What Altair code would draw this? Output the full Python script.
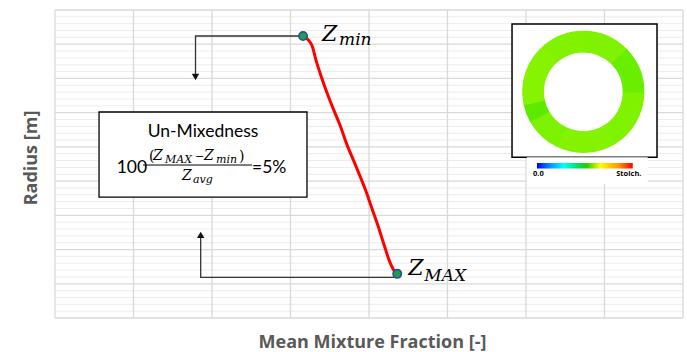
import altair as alt
import numpy as np
import pandas as pd

# ---- data -------------------------------------------------------------
# mean mixture fraction profile across the annulus (axis units, no tick labels)
curve_x = [3.16, 3.27, 3.33, 3.40, 3.46, 3.54, 3.63, 3.72, 3.80, 3.89, 3.97, 4.03, 4.12, 4.20, 4.27, 4.33, 4.36]
curve_y = [8.24, 7.98, 7.49, 7.00, 6.61, 6.14, 5.64, 5.06, 4.62, 4.12, 3.65, 3.25, 2.66, 2.08, 1.61, 1.35, 1.29]

extreme_names = ["min", "MAX"]
extreme_x = [3.16, 4.36]
extreme_y = [8.24, 1.29]

x_major = list(range(0, 9))
y_major = list(range(0, 10))
y_minor = [round(v, 2) for v in np.arange(0, 9, 0.2) if abs(v - round(v)) > 1e-6]

# connector paths from the extremes towards the summary box
conn_upper_x = [3.16, 1.79, 1.79]
conn_upper_y = [8.24, 8.24, 7.12]
conn_lower_x = [4.36, 1.856, 1.856]
conn_lower_y = [1.19, 1.19, 2.36]

# summary box and inset box (axis units)
box = dict(x=0.561, x2=3.21, y=3.53, y2=6.02)
inset = dict(x=5.822, x2=7.669, y=4.70, y2=8.59)
ring_center = (6.73, 6.61)
cbar = dict(x=6.14, x2=7.36, y=4.37, y2=4.53)
cbar_bg = dict(x=6.01, x2=7.55, y=3.92, y2=4.70)

# ring colouring by angular sector (radians, clockwise from top)
ring_t0 = [0.0, 0.8, 1.6, 2.6, 3.6, 4.2, 4.5, 5.6]
ring_t1 = [0.8, 1.6, 2.6, 3.6, 4.2, 4.5, 5.6, 6.2832]
ring_col = ["#7ef200", "#6aee00", "#7ff200", "#84f300", "#7cf100", "#5eea00", "#86f300", "#82f200"]

X = alt.X("x:Q", scale=alt.Scale(domain=[0, 8], nice=False, zero=False),
          axis=alt.Axis(title="Mean Mixture Fraction [-]", labels=False, ticks=False,
                        domain=False, grid=False, titleX=317, titleY=24,
                        titleBaseline="middle", titleAlign="center"))
Y = alt.Y("y:Q", scale=alt.Scale(domain=[0, 9], nice=False, zero=False),
          axis=alt.Axis(title="Radius [m]", labels=False, ticks=False, domain=False,
                        grid=False, titleAngle=270, titleX=-24, titleY=147.5,
                        titleBaseline="middle", titleAlign="center"))


def df(**cols):
    return pd.DataFrame(cols)


# ---- grid --------------------------------------------------------------
minor = alt.Chart(df(y=y_minor)).mark_rule(color="#ececec", strokeWidth=1).encode(y=Y)
hmajor = alt.Chart(df(y=y_major)).mark_rule(color="#d9d9d9", strokeWidth=1.3).encode(y=Y)
vmajor = alt.Chart(df(x=x_major)).mark_rule(color="#d9d9d9", strokeWidth=1.3).encode(x=X)

# ---- connectors --------------------------------------------------------
def path(xs, ys):
    return alt.Chart(df(x=xs, y=ys, o=list(range(len(xs))))).mark_line(
        color="#333333", strokeWidth=1.3).encode(x=X, y=Y, order="o:Q")

conn1 = path(conn_upper_x, conn_upper_y)
conn2 = path(conn_lower_x, conn_lower_y)
arrow1 = alt.Chart(df(x=[1.79], y=[7.04])).mark_point(
    shape="triangle-down", filled=True, size=55, color="#111111", opacity=1).encode(x=X, y=Y)
arrow2 = alt.Chart(df(x=[1.856], y=[2.43])).mark_point(
    shape="triangle-up", filled=True, size=55, color="#111111", opacity=1).encode(x=X, y=Y)

# ---- summary box -------------------------------------------------------
box_rect = alt.Chart(df(**{k: [v] for k, v in box.items()})).mark_rect(
    fill="white", stroke="black", strokeWidth=1.3).encode(x=X, x2="x2:Q", y=Y, y2="y2:Q")

bx = (box["x"] + box["x2"]) / 2
by = (box["y"] + box["y2"]) / 2


def label(text, dx, dy, size, font="Lato", style="normal", align="left", weight="normal",
          x=bx, y=by, color="black", baseline="alphabetic"):
    return alt.Chart(df(x=[x], y=[y], t=[text])).mark_text(
        font=font, fontSize=size, fontStyle=style, fontWeight=weight, align=align,
        baseline=baseline, dx=dx, dy=dy, color=color).encode(x=X, y=Y, text="t:N")


serif = "DejaVu Serif"
box_text = [
    label("Un-Mixedness", 0, -17.3, 17.5, align="center"),
    label("100", -86.3, 18.1, 17.5),
    label("(", -54, 6.6, 14, font=serif),
    label("Z", -50, 5.4, 14, font=serif, style="italic"),
    label("MAX", -38, 8.0, 11, font=serif, style="italic"),
    label("\u2212", -3.5, 5.0, 11, font=serif, align="center"),
    label("Z", 1, 5.4, 14, font=serif, style="italic"),
    label("min", 13, 8.0, 11, font=serif, style="italic"),
    label(")", 36, 6.6, 14, font=serif),
    label("Z", -21, 25.4, 14, font=serif, style="italic"),
    label("avg", -10, 28, 11, font=serif, style="italic"),
    label("=5%", 49, 18.1, 17.5),
]
frac_bar = alt.Chart(df(x=[1.121], x2=[2.51], y=[4.47])).mark_rule(
    color="black", strokeWidth=1).encode(x=X, x2="x2:Q", y=Y)

# ---- profile -----------------------------------------------------------
curve = alt.Chart(df(x=curve_x, y=curve_y, o=list(range(len(curve_x))))).mark_line(
    color="#ff0000", strokeWidth=3, interpolate="monotone").encode(x=X, y=Y, order="o:Q")
dots = alt.Chart(df(x=extreme_x, y=extreme_y, n=extreme_names)).mark_point(
    shape="circle", filled=True, size=70, fill="#1f9d52", stroke="#2f4f8f",
    strokeWidth=1.6, opacity=1).encode(x=X, y=Y)

z_labels = [
    label("Z", 19, 5, 22, font=serif, style="italic", x=extreme_x[0], y=extreme_y[0]),
    label("min", 36, 9, 17, font=serif, style="italic", x=extreme_x[0], y=extreme_y[0]),
    label("Z", 11, 1, 22, font=serif, style="italic", x=extreme_x[1], y=extreme_y[1]),
    label("MAX", 27, 7, 17, font=serif, style="italic", x=extreme_x[1], y=extreme_y[1]),
]

# ---- inset: ring cross-section with colour bar --------------------------
inset_rect = alt.Chart(df(**{k: [v] for k, v in inset.items()})).mark_rect(
    fill="white", stroke="black", strokeWidth=1.5).encode(x=X, x2="x2:Q", y=Y, y2="y2:Q")
ring = alt.Chart(df(x=[ring_center[0]] * len(ring_t0), y=[ring_center[1]] * len(ring_t0),
                    t0=ring_t0, t1=ring_t1, c=ring_col)).mark_arc(
    radius=60.5, radius2=40, strokeWidth=1.2).encode(
    x=X, y=Y,
    theta=alt.Theta("t0:Q", scale=None), theta2="t1:Q",
    color=alt.Color("c:N", scale=None),
    stroke=alt.Stroke("c:N", scale=None))

cbar_white = alt.Chart(df(**{k: [v] for k, v in cbar_bg.items()})).mark_rect(
    fill="white").encode(x=X, x2="x2:Q", y=Y, y2="y2:Q")
jet = alt.LinearGradient(
    gradient="linear", x1=0, x2=1, y1=0, y2=0,
    stops=[alt.GradientStop(color="#0000ff", offset=0),
           alt.GradientStop(color="#00a0ff", offset=0.15),
           alt.GradientStop(color="#00ffff", offset=0.28),
           alt.GradientStop(color="#00e060", offset=0.42),
           alt.GradientStop(color="#20d000", offset=0.52),
           alt.GradientStop(color="#ffff00", offset=0.66),
           alt.GradientStop(color="#ff9900", offset=0.85),
           alt.GradientStop(color="#ff0000", offset=1)])
cbar_rect = alt.Chart(df(**{k: [v] for k, v in cbar.items()})).mark_rect(
    fill=jet).encode(x=X, x2="x2:Q", y=Y, y2="y2:Q")
cbar_labels = [
    label("0.0", 0, 0, 7.5, font="Open Sans", weight="bold", align="left",
          x=cbar["x"] - 0.05, y=4.21, baseline="middle"),
    label("Stoich.", 0, 0, 7.5, font="Open Sans", weight="bold", align="center",
          x=7.31, y=4.21, baseline="middle"),
]

layers = [minor, hmajor, vmajor, conn1, conn2, arrow1, arrow2, box_rect, frac_bar,
          *box_text, curve, dots, *z_labels, inset_rect, ring, cbar_white, cbar_rect,
          *cbar_labels]

chart = alt.layer(*layers).properties(
    width=628, height=308,
    autosize=alt.AutoSizeParams(type="none"),
    padding={"left": 55, "top": 10, "right": 4, "bottom": 34},
).configure_view(stroke=None).configure_axis(
    titleFont="Open Sans", titleFontWeight="bold", titleFontSize=18, titleColor="#595959")

chart.save("out.html", embed_options={"renderer": "svg", "actions": False})
